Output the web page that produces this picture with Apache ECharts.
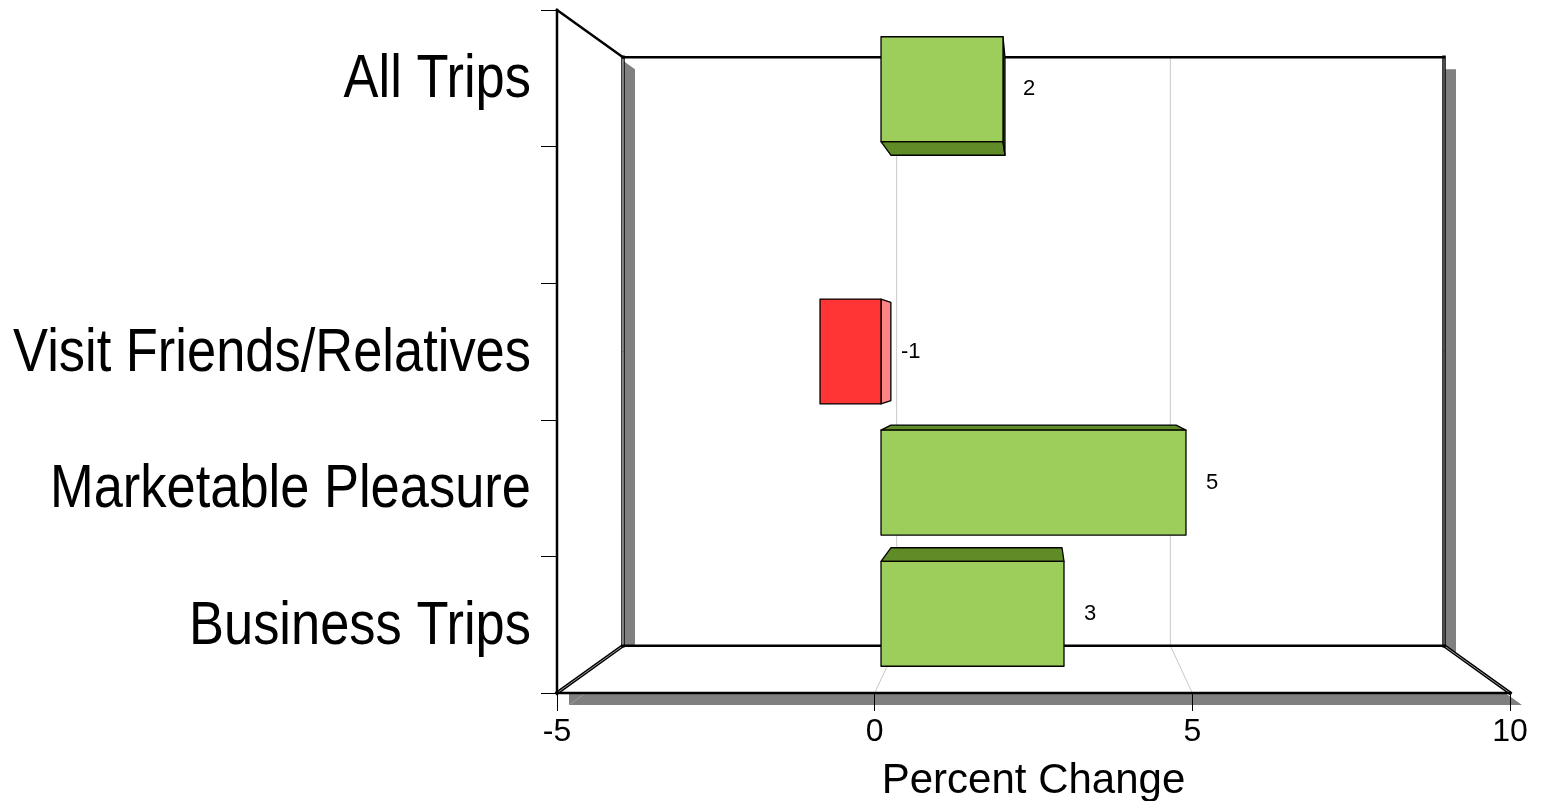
<!DOCTYPE html>
<html>
<head>
<meta charset="utf-8">
<script src="https://cdn.jsdelivr.net/npm/echarts@6/dist/echarts.min.js"></script>
<style>
  html, body { margin: 0; padding: 0; background: #ffffff; }
  #chart { width: 1541px; height: 801px; }
</style>
</head>
<body>
<div id="chart"></div>
<script>
// Category rows, bottom to top (the blank row is a spacer between the total and the segments)
const categories = ['Business Trips', 'Marketable Pleasure', 'Visit Friends/Relatives', '', 'All Trips'];
// Bar values, percent change
const barCategories = ['All Trips', 'Visit Friends/Relatives', 'Marketable Pleasure', 'Business Trips'];
const barValues = [2, -1, 5, 3];
// Value axis ticks
const xTicks = [-5, 0, 5, 10];

// Perspective depth factors (1 = front plane)
const DEPTH_BACK = 0.8615;
const BAR_NEAR = 0.96;
const BAR_FAR = 0.898;
const SHADOW = 12;

const GRAY = '#808080';
const GRID_GRAY = '#c8c8c8';
// Category labels use a horizontally condensed sans
const CAT_FONT = '62px "Liberation Sans", Arial, sans-serif';
const CAT_SQUEEZE = 0.846;

function project(p, v, f) {
  return [v[0] + (p[0] - v[0]) * f, v[1] + (p[1] - v[1]) * f];
}

function poly(points, fill) {
  return { type: 'polygon', shape: { points: points }, style: { fill: fill, stroke: null } };
}

function seg(a, b, color, width) {
  return {
    type: 'line',
    shape: { x1: a[0], y1: a[1], x2: b[0], y2: b[1] },
    style: { stroke: color, lineWidth: width, lineCap: 'square' }
  };
}

// Open box: back wall, left wall and floor, with drop shadows and perspective grid lines
function renderFrame(params, api) {
  const cs = params.coordSys;
  const x0 = cs.x, x1 = cs.x + cs.width, y0 = cs.y, y1 = cs.y + cs.height;
  const V = [(x0 + x1) / 2, (y0 + y1) / 2];
  const back = p => project(p, V, DEPTH_BACK);
  const off = p => [p[0] + SHADOW, p[1] + SHADOW];

  const FLT = [x0, y0], FLB = [x0, y1], FRB = [x1, y1];
  const BLT = back([x0, y0]), BRT = back([x1, y0]), BRB = back([x1, y1]), BLB = back([x0, y1]);

  const backWall = [BLT, BRT, BRB, BLB];
  const leftWall = [FLT, BLT, BLB, FLB];
  const floor = [FLB, BLB, BRB, FRB];

  const children = [];
  children.push(poly(backWall.map(off), GRAY));
  children.push(poly(backWall, '#ffffff'));

  const inner = xTicks.slice(1, -1);
  inner.forEach(t => {
    const X = api.coord([t, 0])[0];
    children.push(seg(back([X, y0]), back([X, y1]), GRID_GRAY, 1));
  });

  children.push(poly(leftWall.map(off), GRAY));
  children.push(poly(leftWall, '#ffffff'));
  children.push(poly(floor.map(off), GRAY));
  children.push(poly(floor, '#ffffff'));

  inner.forEach(t => {
    const X = api.coord([t, 0])[0];
    children.push(seg(back([X, y1]), [X, y1], GRID_GRAY, 1));
  });

  // edges
  children.push(seg(BLB, FLB, '#000', 3.5));
  children.push(seg(BLB, FLB, '#9a9a9a', 1));
  children.push(seg(BRB, FRB, '#000', 3.5));
  children.push(seg(BRB, FRB, '#9a9a9a', 1));
  children.push(seg(BLT, BLB, '#000', 3.5));
  children.push(seg(BLT, BLB, '#ffffff', 1));
  children.push(seg(BRT, BRB, '#000', 3.5));
  children.push(seg(BRT, BRB, '#9a9a9a', 1));
  children.push(seg(BLT, BRT, '#000', 2.5));
  children.push(seg(BLB, BRB, '#000', 2.5));
  children.push(seg(FLT, BLT, '#000', 2.5));
  children.push(seg(FLT, FLB, '#000', 2.5));
  children.push(seg(FLB, FRB, '#000', 2.7));

  // category labels, right-aligned against the left edge
  categories.forEach((name, i) => {
    if (!name) return;
    const y = api.coord([0, i])[1];
    children.push({
      type: 'text',
      x: x0 - 26,
      y: y + 2,
      scaleX: CAT_SQUEEZE,
      style: { text: name, fill: '#000', font: CAT_FONT, align: 'right', verticalAlign: 'middle' }
    });
  });

  return { type: 'group', children: children };
}

const PALETTE = {
  pos: { front: '#9dce5c', cap: '#5f8c26', end: '#4d6430' },
  neg: { front: '#ff3535', cap: '#c42020', end: '#ff8585' }
};

// Extruded bar in perspective; only faces turned toward the viewer are drawn
function renderBar(params, api) {
  const cs = params.coordSys;
  const V = [cs.x + cs.width / 2, cs.y + cs.height / 2];
  const v = api.value(0);
  const ci = api.value(1);
  const p0 = api.coord([0, ci]);
  const p1 = api.coord([v, ci]);
  const half = api.size([0, 1])[1] * 0.4;
  const xl = Math.min(p0[0], p1[0]), xr = Math.max(p0[0], p1[0]);
  const yt = p0[1] - half, yb = p0[1] + half;
  const col = v >= 0 ? PALETTE.pos : PALETTE.neg;

  const n = p => project(p, V, BAR_NEAR);
  const f = p => project(p, V, BAR_FAR);
  const TL = [xl, yt], TR = [xr, yt], BR = [xr, yb], BL = [xl, yb];
  const stroke = { stroke: '#000', lineWidth: 1.3, lineJoin: 'round' };

  const faces = [];
  if (yt > V[1]) faces.push({ pts: [n(TL), n(TR), f(TR), f(TL)], fill: col.cap });
  if (yb < V[1]) faces.push({ pts: [n(BL), n(BR), f(BR), f(BL)], fill: col.cap });
  if (xr < V[0]) faces.push({ pts: [n(TR), n(BR), f(BR), f(TR)], fill: col.end });
  if (xl > V[0]) faces.push({ pts: [n(TL), n(BL), f(BL), f(TL)], fill: col.end });
  faces.push({ pts: [n(TL), n(TR), n(BR), n(BL)], fill: col.front });

  const children = faces.map(fc => ({
    type: 'polygon',
    shape: { points: fc.pts },
    style: Object.assign({ fill: fc.fill }, stroke)
  }));

  const anchor = n([xr, p0[1]]);
  children.push({
    type: 'text',
    x: anchor[0] + 20,
    y: anchor[1],
    style: {
      text: String(v),
      fill: '#000',
      font: '22px "Liberation Sans", Arial, sans-serif',
      align: 'left',
      verticalAlign: 'middle'
    }
  });
  return { type: 'group', children: children };
}

const chart = echarts.init(document.getElementById('chart'), null, { renderer: 'canvas' });

chart.setOption({
  backgroundColor: '#ffffff',
  animation: false,
  grid: {
    left: 557, right: 31, top: 10, bottom: 108,
    containLabel: false,
    outerBoundsMode: 'none'
  },
  xAxis: {
    type: 'value',
    min: xTicks[0],
    max: xTicks[xTicks.length - 1],
    interval: xTicks[1] - xTicks[0],
    z: 5,
    name: 'Percent Change',
    nameLocation: 'middle',
    nameGap: 67,
    nameTextStyle: { color: '#000', fontSize: 42, fontFamily: '"Liberation Sans", Arial, sans-serif' },
    axisLine: { show: false, onZero: false },
    axisTick: { show: true, length: 18, lineStyle: { color: '#000', width: 1 } },
    axisLabel: { color: '#000', fontSize: 32, margin: 23, fontFamily: '"Liberation Sans", Arial, sans-serif' },
    splitLine: { show: false }
  },
  yAxis: {
    type: 'category',
    data: categories,
    z: 5,
    axisLine: { show: false, onZero: false },
    axisTick: { show: true, length: 16, lineStyle: { color: '#000', width: 1 } },
    axisLabel: { show: false },
    splitLine: { show: false }
  },
  series: [
    {
      type: 'custom',
      name: 'frame',
      z: 1,
      clip: false,
      silent: true,
      renderItem: renderFrame,
      data: [[0, 0]],
      encode: { x: 0, y: 1 }
    },
    {
      type: 'custom',
      name: 'Percent Change',
      z: 3,
      clip: false,
      renderItem: renderBar,
      data: barCategories.map((c, i) => [barValues[i], c]),
      encode: { x: 0, y: 1 }
    }
  ]
});
</script>
</body>
</html>
